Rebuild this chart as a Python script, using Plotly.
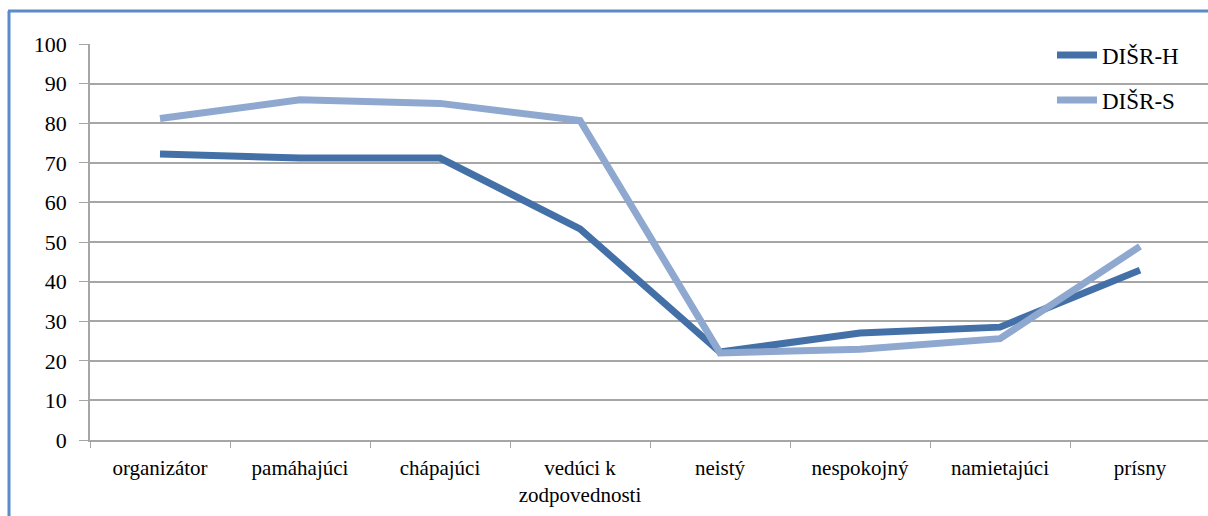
import plotly.graph_objects as go

categories = ["organizátor", "pamáhajúci", "chápajúci", "vedúci k<br>zodpovednosti",
              "neistý", "nespokojný", "namietajúci", "prísny"]
disr_h = [72.2, 71.2, 71.2, 53.3, 22.2, 27.0, 28.5, 42.9]
disr_s = [81.2, 85.9, 85.0, 80.7, 22.0, 22.9, 25.6, 48.9]
y_ticks = [0, 10, 20, 30, 40, 50, 60, 70, 80, 90, 100]

W, H = 1208, 516
ML, MR, MT, MB = 90, 0, 44, 76
pw, ph = W - ML - MR, H - MT - MB

def px_x(x):
    return (x - ML) / pw

def px_y(y):
    return (H - MB - y) / ph

FONT = "Tinos, 'Liberation Serif', 'Times New Roman', Times, 'DejaVu Serif', serif"
GRID = "#a6a6a6"

fig = go.Figure()
fig.add_trace(go.Scatter(x=categories, y=disr_h, mode="lines", name="DIŠR-H",
                         line=dict(color="#4470a8", width=7), legend="legend"))
fig.add_trace(go.Scatter(x=categories, y=disr_s, mode="lines", name="DIŠR-S",
                         line=dict(color="#8fa8cf", width=7), legend="legend2"))

fig.update_layout(
    width=W, height=H,
    margin=dict(l=ML, r=MR, t=MT, b=MB),
    paper_bgcolor="white", plot_bgcolor="white",
    font=dict(family=FONT, color="black"),
    showlegend=True,
    legend=dict(x=px_x(1052), y=px_y(55), xanchor="left", yanchor="middle",
                bgcolor="rgba(0,0,0,0)", font=dict(size=23, family=FONT),
                itemwidth=40, tracegroupgap=0),
    legend2=dict(x=px_x(1052), y=px_y(100), xanchor="left", yanchor="middle",
                 bgcolor="rgba(0,0,0,0)", font=dict(size=23, family=FONT),
                 itemwidth=40, tracegroupgap=0),
    xaxis=dict(type="category", range=[-0.5, -0.5 + pw / 140.0],
               tickson="boundaries", ticks="outside", ticklen=6, tickcolor=GRID,
               showline=True, linecolor=GRID, linewidth=1.5, showgrid=False,
               ticklabelstandoff=8,
               tickfont=dict(size=21, family=FONT), fixedrange=True),
    yaxis=dict(range=[0, 100], tickvals=y_ticks, ticks="outside", ticklen=9,
               tickcolor=GRID, showline=True, linecolor=GRID, linewidth=1.5,
               showgrid=True, gridcolor=GRID, gridwidth=1.5, zeroline=False,
               ticklabelstandoff=8, tickfont=dict(size=22, family=FONT),
               fixedrange=True),
    shapes=[
        dict(type="line", xref="paper", yref="paper",
             x0=px_x(9), x1=px_x(9), y0=px_y(H + 5), y1=px_y(11),
             line=dict(color="#5b8bc9", width=3)),
        dict(type="line", xref="paper", yref="paper",
             x0=px_x(8), x1=px_x(W + 5), y0=px_y(11), y1=px_y(11),
             line=dict(color="#5b8bc9", width=3)),
    ],
)

fig.write_html("out.html")
